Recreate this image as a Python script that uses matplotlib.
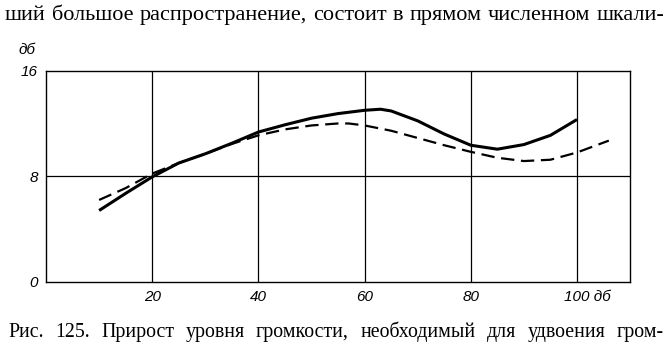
import matplotlib
matplotlib.use("Agg")
import matplotlib.pyplot as plt
from matplotlib.transforms import ScaledTranslation
import numpy as np

# Data
solid_x = [10, 15, 20, 25, 30, 35, 40, 45, 50, 55, 60, 63, 65, 70, 75, 80, 85, 90, 95, 100]
solid_y = [5.4, 6.7, 7.95, 9.0, 9.7, 10.5, 11.35, 11.9, 12.4, 12.75, 13.0, 13.08, 12.95, 12.2, 11.2, 10.35, 10.05, 10.4, 11.1, 12.3]
dash_x = [10, 15, 20, 25, 30, 35, 40, 45, 50, 55, 57, 60, 65, 70, 75, 80, 85, 90, 95, 100, 106]
dash_y = [6.2, 7.1, 8.2, 9.0, 9.7, 10.45, 11.1, 11.55, 11.85, 12.0, 12.0, 11.85, 11.45, 10.9, 10.35, 9.85, 9.4, 9.15, 9.25, 9.8, 10.7]
x_ticks = [20, 40, 60, 80, 100]
x_tick_labels = ["20", "40", "60", "80", "100 дб"]
y_ticks = [0, 8, 16]
y_tick_labels = ["0", "8", "16"]
top_text = "ший большое распространение, состоит в прямом численном шкали-"
caption = "Рис. 125. Прирост уровня громкости, необходимый для удвоения гром-"

serif = ["Liberation Serif", "DejaVu Serif"]
tickfont = ["Liberation Sans Narrow", "Liberation Sans", "DejaVu Sans"]

W, H = 669, 354
fig = plt.figure(figsize=(W / 100, H / 100), dpi=100)
ax = fig.add_axes([0.0688, 0.2042, 0.873, 0.596])

ax.plot(solid_x, solid_y, color="black", lw=2.2, solid_capstyle="butt")
ax.plot(dash_x, dash_y, color="black", lw=1.6, dashes=(6, 3))

ax.set_xlim(0, 110)
ax.set_ylim(0, 16)
for xv in x_ticks:
    ax.axvline(xv, color="black", lw=0.9)
ax.axhline(8, color="black", lw=0.9)
for s in ax.spines.values():
    s.set_linewidth(1.0)

ax.set_xticks(x_ticks)
ax.set_xticklabels(x_tick_labels, family=tickfont, style="italic", fontsize=11)
ax.set_yticks(y_ticks)
ax.set_yticklabels(y_tick_labels, family=tickfont, style="italic", fontsize=11)
ax.tick_params(length=0, pad=6)
for lbl in ax.get_xticklabels():
    if lbl.get_text().startswith("100"):
        lbl.set_horizontalalignment("left")
        lbl.set_transform(lbl.get_transform() + ScaledTranslation(-9 / 72, 0, fig.dpi_scale_trans))

fig.text(0.027, 0.86, "дб", family=tickfont, style="italic", fontsize=11, ha="left", va="center")


def justified(text, x0, x1, y, size):
    """Place words of a line so that it spans from x0 to x1 (pixels)."""
    words = text.split(" ")
    r = fig.canvas.get_renderer()
    objs = [fig.text(0, y, w, family=serif, fontsize=size, ha="left", va="baseline") for w in words]
    widths = [o.get_window_extent(r).width for o in objs]
    gap = (x1 - x0 - sum(widths)) / (len(words) - 1)
    x = x0
    for o, w in zip(objs, widths):
        o.set_x(x / W)
        x += w + gap


justified(top_text, 5, 664, 1 - 20 / H, 16.0)
justified(caption, 8, 664, 1 - 337 / H, 14.3)

fig.savefig("out.png", dpi=100)
